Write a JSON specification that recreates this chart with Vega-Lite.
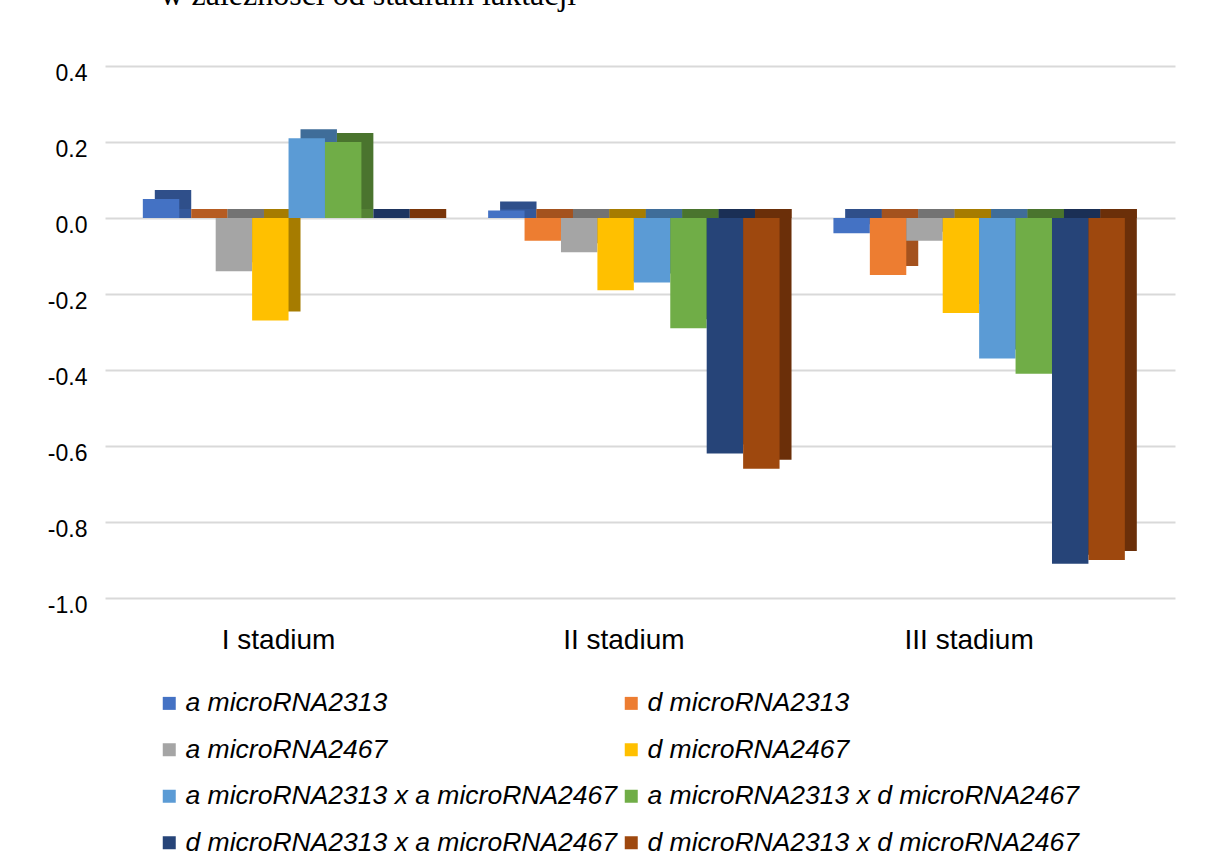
{
  "$schema": "https://vega.github.io/schema/vega-lite/v6.json",
  "autosize": {"type": "none"},
  "width": 1070,
  "height": 532,
  "padding": {"left": 105, "top": 66, "right": 38, "bottom": 265},
  "background": "#ffffff",
  "title": {
    "text": "w zależności od stadium laktacji",
    "anchor": "start",
    "font": "Liberation Serif",
    "fontSize": 32,
    "fontWeight": "normal",
    "color": "#000000",
    "baseline": "alphabetic",
    "offset": 43,
    "dy": 18,
    "dx": 113
  },
  "data": {
    "values": [
      {"stadium": "I stadium", "series": "a microRNA2313", "value": 0.05},
      {"stadium": "I stadium", "series": "d microRNA2313", "value": 0.0},
      {"stadium": "I stadium", "series": "a microRNA2467", "value": -0.14},
      {"stadium": "I stadium", "series": "d microRNA2467", "value": -0.27},
      {"stadium": "I stadium", "series": "a microRNA2313 x a microRNA2467", "value": 0.21},
      {"stadium": "I stadium", "series": "a microRNA2313 x d microRNA2467", "value": 0.2},
      {"stadium": "I stadium", "series": "d microRNA2313 x a microRNA2467", "value": 0.0},
      {"stadium": "I stadium", "series": "d microRNA2313 x d microRNA2467", "value": 0.0},
      {"stadium": "II stadium", "series": "a microRNA2313", "value": 0.02},
      {"stadium": "II stadium", "series": "d microRNA2313", "value": -0.06},
      {"stadium": "II stadium", "series": "a microRNA2467", "value": -0.09},
      {"stadium": "II stadium", "series": "d microRNA2467", "value": -0.19},
      {"stadium": "II stadium", "series": "a microRNA2313 x a microRNA2467", "value": -0.17},
      {"stadium": "II stadium", "series": "a microRNA2313 x d microRNA2467", "value": -0.29},
      {"stadium": "II stadium", "series": "d microRNA2313 x a microRNA2467", "value": -0.62},
      {"stadium": "II stadium", "series": "d microRNA2313 x d microRNA2467", "value": -0.66},
      {"stadium": "III stadium", "series": "a microRNA2313", "value": -0.04},
      {"stadium": "III stadium", "series": "d microRNA2313", "value": -0.15},
      {"stadium": "III stadium", "series": "a microRNA2467", "value": -0.06},
      {"stadium": "III stadium", "series": "d microRNA2467", "value": -0.25},
      {"stadium": "III stadium", "series": "a microRNA2313 x a microRNA2467", "value": -0.37},
      {"stadium": "III stadium", "series": "a microRNA2313 x d microRNA2467", "value": -0.41},
      {"stadium": "III stadium", "series": "d microRNA2313 x a microRNA2467", "value": -0.91},
      {"stadium": "III stadium", "series": "d microRNA2313 x d microRNA2467", "value": -0.9}
    ]
  },
  "layer": [
    {
      "mark": {"type": "bar", "y2Offset": -9},
      "encoding": {
        "x": {"field": "stadium", "type": "nominal", "sort": ["I stadium", "II stadium", "III stadium"],
              "scale": {"paddingInner": 0.156, "paddingOuter": 0.1274, "align": 0.566},
              "axis": null},
        "xOffset": {"field": "series", "type": "nominal",
                    "sort": ["a microRNA2313", "d microRNA2313", "a microRNA2467", "d microRNA2467", "a microRNA2313 x a microRNA2467", "a microRNA2313 x d microRNA2467", "d microRNA2313 x a microRNA2467", "d microRNA2313 x d microRNA2467"]},
        "y": {"datum": 0, "type": "quantitative",
              "scale": {"domain": [-1, 0.4], "nice": false},
              "axis": {"title": null, "values": [0.4, 0.2, 0, -0.2, -0.4, -0.6, -0.8, -1],
                       "labelExpr": "replace(format(datum.value, '.1f'), '\u2212', '-')",
                       "grid": true, "gridColor": "#d9d9d9", "gridWidth": 2, "domain": false, "ticks": false,
                       "labelFont": "Liberation Sans", "labelFontSize": 23, "labelColor": "#000000",
                       "labelPadding": 18, "labelOffset": 7}},
        "y2": {"datum": 0},
        "color": {"field": "series", "type": "nominal", "legend": null,
                  "sort": ["a microRNA2313", "d microRNA2313", "a microRNA2467", "d microRNA2467", "a microRNA2313 x a microRNA2467", "a microRNA2313 x d microRNA2467", "d microRNA2313 x a microRNA2467", "d microRNA2313 x d microRNA2467"],
                  "scale": {"range": ["#34589a", "#b65c22", "#7f7f7f", "#bf9000", "#4679a8", "#548235", "#1e3560", "#7a360a"]}}
      }
    },
    {
      "mark": {"type": "bar", "yOffset": -9, "y2Offset": -9},
      "encoding": {
        "x": {"field": "stadium", "type": "nominal", "sort": ["I stadium", "II stadium", "III stadium"],
              "scale": {"paddingInner": 0.156, "paddingOuter": 0.1274, "align": 0.566},
              "axis": null},
        "xOffset": {"field": "series", "type": "nominal",
                    "sort": ["a microRNA2313", "d microRNA2313", "a microRNA2467", "d microRNA2467", "a microRNA2313 x a microRNA2467", "a microRNA2313 x d microRNA2467", "d microRNA2313 x a microRNA2467", "d microRNA2313 x d microRNA2467"]},
        "y": {"field": "value", "type": "quantitative"},
        "color": {"field": "series", "type": "nominal", "legend": null,
                  "sort": ["a microRNA2313", "d microRNA2313", "a microRNA2467", "d microRNA2467", "a microRNA2313 x a microRNA2467", "a microRNA2313 x d microRNA2467", "d microRNA2313 x a microRNA2467", "d microRNA2313 x d microRNA2467"],
                  "scale": {"range": ["#2f4f8a", "#a4521e", "#737373", "#a67c00", "#3f6d99", "#4a742e", "#1a2f55", "#6b2f09"]}}
      }
    },
    {
      "mark": {"type": "bar"},
      "encoding": {
        "x": {"field": "stadium", "type": "nominal", "sort": ["I stadium", "II stadium", "III stadium"],
              "scale": {"paddingInner": 0.156, "paddingOuter": 0.1274, "align": 0.43},
              "axis": {"title": null, "labelAngle": 0, "domain": false, "ticks": false, "grid": false,
                       "labelFont": "Liberation Sans", "labelFontSize": 28, "labelColor": "#000000",
                       "labelPadding": 28, "labelOffset": -10}},
        "xOffset": {"field": "series", "type": "nominal",
                    "sort": ["a microRNA2313", "d microRNA2313", "a microRNA2467", "d microRNA2467", "a microRNA2313 x a microRNA2467", "a microRNA2313 x d microRNA2467", "d microRNA2313 x a microRNA2467", "d microRNA2313 x d microRNA2467"]},
        "y": {"field": "value", "type": "quantitative"},
        "color": {"field": "series", "type": "nominal",
                  "sort": ["a microRNA2313", "d microRNA2313", "a microRNA2467", "d microRNA2467", "a microRNA2313 x a microRNA2467", "a microRNA2313 x d microRNA2467", "d microRNA2313 x a microRNA2467", "d microRNA2313 x d microRNA2467"],
                  "scale": {"range": ["#4472c4", "#ed7d31", "#a5a5a5", "#ffc000", "#5b9bd5", "#70ad47", "#264478", "#9e480e"]},
                  "legend": {"title": null, "orient": "none", "legendX": 51, "legendY": 624,
                             "columns": 2, "direction": "horizontal", "columnPadding": 0, "rowPadding": 19.5,
                             "symbolType": "square", "symbolSize": 169, "symbolStrokeWidth": 0, "symbolOpacity": 1,
                             "labelFont": "Liberation Sans", "labelFontSize": 26.5, "labelFontStyle": "italic",
                             "labelColor": "#000000", "labelOffset": 3, "labelLimit": 0}}
      }
    }
  ],
  "resolve": {"scale": {"color": "independent", "x": "independent", "xOffset": "independent"}, "axis": {"x": "independent"}},
  "config": {
    "view": {"stroke": null},
    "font": "Liberation Sans"
  }
}
